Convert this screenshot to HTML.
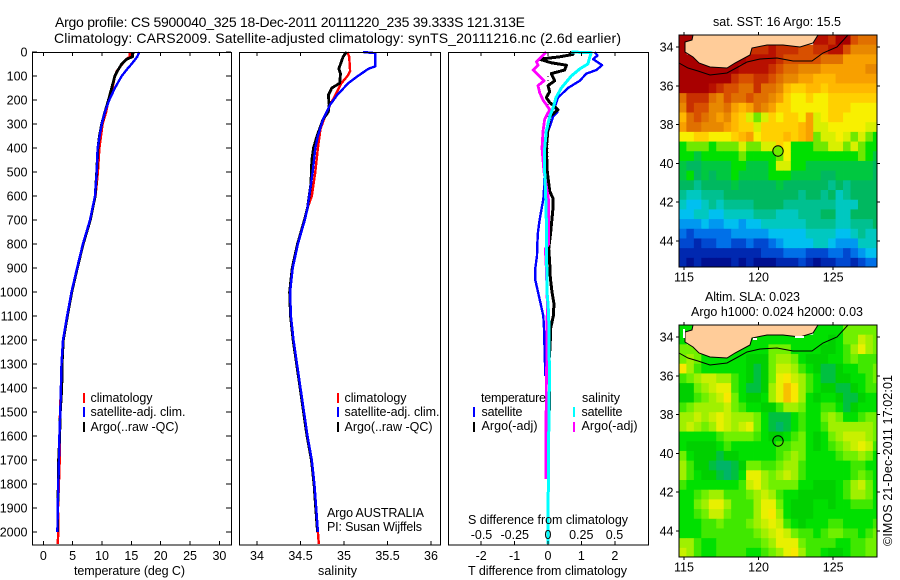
<!DOCTYPE html>
<html><head><meta charset="utf-8"><title>Argo profile</title>
<style>
html,body{margin:0;padding:0;background:#fff;width:900px;height:580px;overflow:hidden}
svg{display:block}
text{font-family:"Liberation Sans",sans-serif;font-size:12.5px;fill:#000}
.title{font-size:14px}
</style></head>
<body>
<svg id="fig" width="900" height="580" viewBox="0 0 900 580" xmlns="http://www.w3.org/2000/svg">
<defs>
<clipPath id="c1"><rect x="679" y="35" width="198" height="232"/></clipPath>
<clipPath id="c2"><rect x="679" y="325" width="198" height="232"/></clipPath>
</defs>
<text class="title" x="55" y="27" textLength="470">Argo profile: CS 5900040_325 18-Dec-2011 20111220_235 39.333S 121.313E</text>
<text class="title" x="54" y="43" textLength="567">Climatology: CARS2009. Satellite-adjusted climatology: synTS_20111216.nc (2.6d earlier)</text>

<g id="p1"></g>
<g id="p2"></g>
<g id="p3"></g>

<text x="74" y="575" textLength="111">temperature (deg C)</text>
<text x="318" y="575" textLength="39">salinity</text>
<text x="468" y="575" textLength="159">T difference from climatology</text>
<text x="468" y="524" textLength="160">S difference from climatology</text>
<text x="327" y="517" textLength="97">Argo AUSTRALIA</text>
<text x="327" y="531" textLength="95">PI: Susan Wijffels</text>

<g>
<rect x="83" y="393" width="2" height="10" fill="#f00"/>
<text x="90.500" y="402" textLength="62">climatology</text>
<rect x="83" y="407" width="2" height="10" fill="#00f"/>
<text x="90.500" y="416" textLength="95">satellite-adj. clim.</text>
<rect x="83" y="422" width="2" height="10" fill="#000"/>
<text x="90.500" y="431" textLength="88">Argo(..raw -QC)</text>
</g>
<g>
<rect x="337" y="393" width="2" height="10" fill="#f00"/>
<text x="344.500" y="402" textLength="62">climatology</text>
<rect x="337" y="407" width="2" height="10" fill="#00f"/>
<text x="344.500" y="416" textLength="95">satellite-adj. clim.</text>
<rect x="337" y="422" width="2" height="10" fill="#000"/>
<text x="344.500" y="431" textLength="88">Argo(..raw -QC)</text>
</g>
<g>
<text x="481" y="402" textLength="65">temperature</text>
<rect x="473" y="407" width="2" height="10" fill="#00f"/>
<text x="481.500" y="416" textLength="41">satellite</text>
<rect x="473" y="422" width="2" height="10" fill="#000"/>
<text x="481.500" y="430" textLength="56">Argo(-adj)</text>
<text x="582" y="402" textLength="38">salinity</text>
<rect x="573" y="407" width="2" height="10" fill="#0ff"/>
<text x="581.500" y="416" textLength="41">satellite</text>
<rect x="573" y="422" width="2" height="10" fill="#f0f"/>
<text x="581.500" y="430" textLength="56">Argo(-adj)</text>
</g>

<g>
<g id="sstCells" clip-path="url(#c1)"></g>
<g>
<path d="M693 35L692 40L685 42L685 52L693 57L699 63L710 67L727 68L735 63L750 55L752 48L767 45L783 45L800 47L813 43L818 35Z" fill="#ffcc99" stroke="#000" stroke-width="1"/>
<path d="M679 63L688 68L698 71L710 75L727 73L738 67L747 62L760 59L777 58L793 61L812 61L823 53L837 47L848 35" fill="none" stroke="#000" stroke-width="1"/>
</g>
<g id="sstAxes"></g>
<circle cx="778" cy="151" r="5.200" fill="#70e800" stroke="#000" stroke-width="1"/>
<text x="713" y="26" textLength="128">sat. SST: 16 Argo: 15.5</text>
</g>

<g>
<g id="slaCells" clip-path="url(#c2)"></g>
<g>
<path d="M693 325L692 330L685 332L685 342L693 347L699 353L710 357L727 358L735 353L750 345L752 338L767 335L783 335L800 337L813 333L818 325Z" fill="#ffcc99" stroke="#000" stroke-width="1"/>
<path d="M679 353L688 358L698 361L710 365L727 363L738 357L747 352L760 349L777 348L793 351L812 351L823 343L837 337L848 325" fill="none" stroke="#000" stroke-width="1"/>
<rect x="683" y="329" width="2" height="9" fill="#fff"/>
<rect x="753" y="338" width="4" height="2" fill="#fff"/>
<rect x="795" y="336" width="9" height="2" fill="#fff"/>
</g>
<g id="slaAxes"></g>
<circle cx="778" cy="441" r="5.200" fill="none" stroke="#000" stroke-width="1"/>
<text x="705" y="301" textLength="95">Altim. SLA: 0.023</text>
<text x="691" y="316" textLength="172">Argo h1000: 0.024 h2000: 0.03</text>
</g>
<text x="0" y="0" transform="translate(892 546) rotate(-90)" textLength="171">©IMOS 21-Dec-2011 17:02:01</text>
</svg>

<script>
// ---------- profile data ----------
const depthTicks = [0,100,200,300,400,500,600,700,800,900,1000,1100,1200,1300,1400,1500,1600,1700,1800,1900,2000];
const tempTicks = [0,5,10,15,20,25,30];
const salTicks = [34,34.5,35,35.5,36];
const tDiffTicks = [-2,-1,0,1,2];
const tDiffLabels = ['-2','-1','0','1','2'];
const sDiffTicks = [-0.5,-0.25,0,0.25,0.5];
const sDiffLabels = ['-0.5','-0.25','0','0.25','0.5'];

const climTDepths = [0,20,30,80,100,150,200,250,300,400,500,600,700,800,900,1000,1100,1200,1300,1400,1500,1600,1700,1800,1900,2000,2050];
const climTemp = [14.75,14.75,14.1,12.5,12.2,11.8,11.1,10.7,10.1,9.55,9.3,8.9,7.95,6.75,5.75,4.8,4.05,3.35,3.1,3.0,2.85,2.8,2.8,2.65,2.5,2.55,2.45];
const satTDepths = [0,20,50,65,100,150,200,250,300,400,500,600,700,800,900,1000,1100,1200,1300,1400,1500,1600,1700,1800,1900,2000];
const satTemp = [16.35,16,15.05,14.5,13.35,12.2,11.25,10.5,9.95,9.25,9.1,8.8,7.95,6.75,5.75,4.8,4.05,3.35,3.1,3.0,2.9,2.75,2.68,2.55,2.45,2.4];
const argoTDepths = [0,20,30,50,80,100,150,200,250,300,350,400,500,600,700,800,900,1000,1100,1200,1300,1400,1500,1600,1700,1800,1900,2000];
const argoTemp = [15.3,15.2,14.2,13.35,12.6,12.2,11.65,11.1,10.5,9.95,9.55,9.3,9.1,8.85,8.0,6.8,5.8,4.85,4.1,3.4,3.2,3.15,2.9,2.8,2.6,2.55,2.45,2.45];

const climSDepths = [0,20,80,100,130,180,220,270,320,400,500,600,650,700,800,900,1000,1100,1200,1300,1400,1500,1600,1700,1800,1900,2000,2050];
const climSal = [35.04,35.06,35.07,35.04,34.97,34.9,34.84,34.78,34.73,34.7,34.67,34.63,34.58,34.55,34.47,34.41,34.38,34.39,34.42,34.46,34.5,34.54,34.58,34.63,34.66,34.68,34.7,34.71];
const satSDepths = [0,5,60,70,100,130,180,220,280,350,400,500,600,650,700,800,900,1000,1100,1200,1300,1400,1500,1600,1700,1800,1900,2000];
const satSal = [35.22,35.36,35.36,35.28,35.16,35.05,34.92,34.84,34.76,34.7,34.67,34.64,34.6,34.58,34.55,34.47,34.41,34.38,34.39,34.42,34.46,34.5,34.54,34.58,34.63,34.66,34.68,34.7];
const argoSDepths = [0,20,40,70,90,130,150,180,220,250,280,320,350,400,450,550,650,700,800,900,1000,1100,1200,1300,1400,1500,1600,1700,1800,1900,2000];
const argoSal = [35.03,34.99,34.97,34.94,34.96,34.95,34.86,34.82,34.83,34.82,34.76,34.72,34.69,34.65,34.63,34.62,34.58,34.545,34.465,34.405,34.375,34.385,34.415,34.455,34.495,34.535,34.575,34.625,34.655,34.675,34.695];

const satTdDepths = [0,15,30,55,75,90,120,150,190,230,250,270,300,330,400,500,600,620,700,750,800,850,900,950,1000,1050,1100,1150,1200,1250,1300,1350];
const satTd = [1.4,1.48,1.35,1.62,1.45,1.15,0.95,0.6,0.3,0.2,0.28,0.15,0.08,0,-0.1,-0.1,-0.13,-0.15,-0.25,-0.3,-0.32,-0.33,-0.38,-0.38,-0.3,-0.22,-0.14,-0.12,-0.11,-0.1,-0.09,-0.08];
const argoTdDepths = [0,10,20,30,45,55,75,90,120,140,165,190,210,240,270,320,400,500,580,610,650,750,820,880,940,1000,1050,1100,1150,1200,1250,1300,1400,1550,1720];
const argoTd = [0.65,0.75,0.35,-0.25,0.1,0.55,0.5,0.1,0.2,0,0.05,-0.05,0.05,0.3,0.05,0,-0.05,-0.02,0.05,0.15,0.15,0.08,0.02,0.05,0.07,0.12,0.18,0.16,0.08,0.07,0.05,0.02,0.05,0.03,-0.05];
const satSdDepths = [0,3,30,50,70,100,150,190,230,270,330,400,500,600,700,1000,1050,1100,1200,1300,1400,1600,1800,2050];
const satSd = [0.175,0.325,0.31,0.3,0.24,0.175,0.1,0.06,0.04,0.0125,-0.0125,-0.025,-0.025,-0.0175,-0.0125,-0.0075,0,0.005,0.0075,0.01,0.01,0.005,0.002,0];
const argoSdDepths = [0,20,40,55,75,95,120,140,170,200,240,280,330,400,500,600,620,800,820,900,1000,1050,1150,1300,1400,1600,1780];
const argoSd = [-0.0125,-0.05,-0.0875,-0.075,-0.1125,-0.075,-0.03,-0.075,-0.0625,-0.0375,0.0125,-0.025,-0.0375,-0.045,-0.03,0,0.005,0.005,-0.02,-0.0125,-0.0075,-0.005,-0.0075,-0.01,-0.0125,-0.015,-0.015];
const zeroLineDepths = [100,200,300,400,500,600];

// ---------- map data (0.5 degree blocks) ----------
const lonTicks = [115,120,125];
const latTicks = [34,36,38,40,42,44];
const sstRows = [
[21,21,null,null,null,null,null,null,null,null,null,null,null,null,null,null,null,null,20.5,20.5,20,21,21,19.5,19,19,19],
[21,null,null,null,null,null,null,null,null,20,20,20,20.5,20,20,20,19.5,19.5,20,20,20.5,20.5,19.5,18.5,18.5,18.5,18.5],
[21,21,21,null,null,null,null,21,21,20.5,20.5,20.5,20.5,20,19.5,19.5,19.5,19.5,19.5,19,19,19,18,18,18,18,18],
[21,21,21,21,21,21,21,21,20.5,20.5,20.5,20.5,20,19.5,19,19,18.5,18.5,18.5,18,18,18,18,18,18,18.5,18.5],
[21,21,21,21,21,21,21,20,19.5,19.5,20,20,19.5,19,18.5,18.5,18,18,17.5,17.5,17.5,18,18,18,18,18,18],
[21,21,21,21,20.5,20,19.5,19.5,19,19,20,19,19,18.5,17.5,17,17,17.5,17.5,17,17.5,17.5,17.5,17.5,17.5,17.5,17.5],
[19,20,20,20,19,18.5,19.5,19,19,19.5,19,19,18.5,18,17,16.5,16.5,17,16.5,16.5,17,17,17,17,17,17,17],
[18.5,20,19.5,19.5,18.5,18.5,19,18,17.5,18,19,18.5,18,17,17,16.5,16.5,16.5,16.5,16.5,17,17,17,16.5,16.5,16.5,16.5],
[17.5,19,19.5,19,18.5,18,18.5,17.5,17,16,15.5,16,17,16.5,17,17,16.5,18,16,16.5,17,17,16.5,16.5,16.5,16.5,16.5],
[18,19,19,18.5,18.5,18.5,18,17.5,17,17,16,17,17,17,17,17,17.5,18,16,16,16.5,16.5,16.5,16.5,16.5,16,16],
[16.5,16.5,17,17,16.5,16.5,16.5,17,17.5,18,16.5,17,17,17,17.5,17,17.5,18,15.5,16,16,16.5,16,15.5,16,15.5,15],
[15,15.5,15.5,15.5,15,15.5,15.5,15.5,16,15.5,15.5,16,16,17,16.5,15,15,15,15.5,15.5,16,16,15.5,16,15.5,15,15],
[15,15,14.5,15,15,15,15,15,15.5,15,15,15,15,15.5,16.5,15,15,15,15,15,15,15,15,15,15.5,15,14.5],
[14.5,14,14,14.5,14.5,14.5,14.5,15,15,14.5,14.5,14.5,15,16,16,15,15,14.5,14.5,14.5,14.5,14.5,14.5,14.5,14.5,14.5,14],
[14.5,15,14,14.5,14,14.5,14.5,15,14.5,14.5,14.5,14.5,15,15,15,14.5,14.5,14.5,14.5,14,14,14.5,14.5,14.5,14.5,14.5,14],
[14,14,13.5,14,14,14,14,14.5,14,14,14,14,14,14.5,14,14,14,14,14,14,13.5,14,13.5,14,14,14,14],
[13.5,13,13,13.5,13.5,13.5,14,14,14,14,14,14,14,14,14,14,13.5,14,14,13.5,14,13,13.5,14,14,14,14],
[13,12.5,12.5,13,13.5,13,13.5,13.5,13.5,13.5,14,14,14,14,13.5,13.5,13.5,13.5,13.5,13.5,13.5,13,13,13,14,14,14],
[12.5,12.5,13,13,12.5,12.5,13,13,13,13,13.5,13.5,13.5,13,13,13,13.5,13.5,13.5,14,14,13,13,14,14,14,14],
[12,12,12,12.5,12,12,12.5,12.5,12,12.5,12.5,13,13,13,13,13,13,13.5,13.5,13.5,13.5,13,13,13.5,13.5,13.5,14],
[11.5,11,11.5,11.5,11.5,11.5,11.5,12,12,12,12,12,12.5,12.5,12.5,12.5,12.5,13,13,13,13,12.5,12.5,13,13.5,13,13],
[11,11,10.5,11,11,11.5,11.5,11,11,11.5,11,11,11.5,12,12.5,12.5,12.5,12.5,13,13,12.5,12,12,12,13,13,13],
[10.5,10.5,10.5,10.5,10.5,10.5,10.5,10.5,10.5,10.5,10.5,11,11,11,11.5,11.5,11.5,11,11,11,11.5,11.5,11,11.5,12,12.5,12.5],
[10.5,10,10.5,10,10,10,10,10.5,10,10.5,10,10,10,10.5,10.5,10.5,11,10.5,10,10.5,10.5,11,11,10.5,11,11.5,11.5]
];
const slaRows = [
[0,0,null,null,null,null,null,null,null,null,null,null,null,null,null,null,null,null,0,0,0,0,5,5,5,5,5],
[0,null,null,null,null,null,null,null,null,0,0,0,0,0,0,0,0,0,0,0,-2,0,5,5,10,8,5],
[5,5,5,null,null,null,null,0,0,0,0,0,5,5,5,0,0,0,0,-2,-2,0,3,8,12,8,5],
[5,8,5,0,0,0,0,0,0,-2,-3,-2,5,8,8,5,0,-2,-3,-3,0,0,3,5,3,3,3],
[15,8,3,0,0,0,0,0,0,-3,-4,-3,5,10,10,8,3,0,-3,-5,-5,-2,0,0,3,3,5],
[3,5,8,10,10,8,8,3,0,-3,-4,-2,5,12,15,10,8,3,0,-5,-5,-3,-2,0,0,3,5],
[-2,-3,5,8,10,12,12,3,0,-4,-4,-2,8,12,18,15,8,3,0,-3,-3,-5,-5,-3,0,3,3],
[-2,-2,3,5,8,10,15,5,0,-3,-3,0,8,12,18,15,8,0,-2,0,0,-3,-5,-5,-2,0,0],
[3,5,8,8,8,8,10,5,2,0,0,-2,-2,3,8,8,5,0,0,3,3,0,-5,-3,0,0,0],
[8,8,10,8,10,12,10,8,8,8,5,0,-4,-6,-4,0,3,0,0,5,8,5,0,0,3,5,5],
[8,10,8,5,8,12,10,8,10,12,5,0,-4,-7,-5,0,3,0,0,3,8,8,8,8,8,8,5],
[0,0,0,0,0,3,5,5,5,5,3,0,-3,-3,0,3,5,0,-3,0,5,8,10,10,10,8,5],
[0,-2,-3,-3,-2,0,3,0,0,0,0,0,0,3,3,5,5,0,-3,0,3,5,8,10,12,10,3],
[5,0,-2,-2,-2,-4,-3,-2,0,0,0,0,0,3,5,8,5,0,0,0,0,3,5,5,8,5,0],
[8,3,-2,-3,-5,-7,-8,-5,-2,5,5,3,3,5,8,8,3,0,0,0,0,0,0,3,3,0,0],
[8,3,0,-2,-3,-5,-7,-4,0,12,12,8,5,8,10,8,3,0,0,0,0,0,0,3,5,3,0],
[3,0,0,0,0,0,0,0,3,10,12,8,5,5,5,5,0,0,-2,-3,-2,0,3,8,10,5,0],
[0,0,3,5,8,8,3,3,3,5,8,10,8,3,0,0,-2,-2,-2,-3,-3,0,3,8,8,5,0],
[0,0,5,8,12,12,8,3,3,3,8,12,12,5,0,-2,-3,-2,0,0,-2,0,0,3,3,3,0],
[0,0,3,5,10,10,5,3,3,3,8,13,15,8,0,-2,-3,-2,0,0,0,0,0,0,0,0,0],
[0,0,0,3,3,5,3,3,3,5,8,10,12,10,3,0,-2,0,0,0,3,3,0,0,0,0,3],
[0,0,0,3,3,3,3,3,3,3,5,8,10,12,10,5,3,3,0,3,5,5,3,3,0,3,5],
[8,8,3,0,0,3,3,3,3,3,3,5,8,12,13,13,5,3,3,3,3,0,0,3,3,5,5],
[10,8,3,0,0,3,3,3,3,0,0,3,5,8,12,15,8,3,3,0,-2,-2,0,3,3,5,5]
];
const sstLevels = [10,10.5,11,11.5,12,12.5,13,13.5,14,14.5,15,15.5,16,16.5,17,17.5,18,18.5,19,19.5,20,20.5,21];
const sstColors = ['#001090','#0028b0','#0048d0','#0070e8','#0098f0','#00c0f0','#00c8c0','#00c090','#00b860','#00c840','#00e000','#70e800','#d8f000','#f8f000','#ffd000','#ffb800','#f8a000','#e88800','#e07000','#d85000','#c83000','#b81000','#a80000'];
const slaLevels = [-8,-5,-3,0,3,5,8,10,12,15,18];
const slaColors = ['#00b468','#00c040','#00d000','#00e000','#40e800','#70f000','#a0f000','#c8f000','#e8f000','#f8e800','#f8c000'];

// ---------- axis functions ----------
const svg = document.getElementById('fig');
const NS = 'http://www.w3.org/2000/svg';
const yD = d => 52 + 0.24 * d;
const xT = t => 43.3 + 5.87 * t;
const xS = s => 257 + 87 * (s - 34);
const xTd = v => 548 + 33.4 * v;
const xSd = v => 548 + 133 * v;
const xLon = l => 684 + 14.92 * (l - 115);
const yLat = l => 47 + 19.38 * (l - 34);

function el(parent, tag, attrs, txt) {
  const e = document.createElementNS(NS, tag);
  for (const k in attrs) e.setAttribute(k, attrs[k]);
  if (txt !== undefined) e.textContent = txt;
  parent.appendChild(e);
  return e;
}
function seg(parent, x1, y1, x2, y2) {
  const l = el(parent, 'line', {x1, y1, x2, y2, stroke: '#000', 'stroke-width': 1, 'shape-rendering': 'crispEdges'});
  
  
  return l;
}
function frame(parent, x, w) {
  const r = el(parent, 'rect', {x: x + 0.5, y: 52.5, width: w, height: 492.5, fill: 'none', stroke: '#000', 'stroke-width': 1.2, 'shape-rendering': 'crispEdges'});
  
  
}
function label(parent, x, y, anchor, s) {
  const t = el(parent, 'text', {x, y, 'text-anchor': anchor}, s);
  
  
}
function series(parent, depths, vals, xf, color, w, name) {
  const pts = depths.map((d, i) => xf(vals[i]).toFixed(1) + ',' + yD(d).toFixed(1)).join(' ');
  const p = el(parent, 'polyline', {points: pts, fill: 'none', stroke: color, 'stroke-width': w, 'stroke-linejoin': 'round', 'shape-rendering': 'crispEdges'});
  
  
}

// ---------- panel 1: temperature ----------
const p1 = document.getElementById('p1');
series(p1, climTDepths, climTemp, xT, '#f00', 2.4, 'series-climatology-temperature');
series(p1, argoTDepths, argoTemp, xT, '#000', 2.8, 'series-argo-temperature');
series(p1, satTDepths, satTemp, xT, '#00f', 2.4, 'series-satellite-temperature');
frame(p1, 32, 199);
depthTicks.forEach(d => {
  seg(p1, 32, yD(d), 37, yD(d));
  seg(p1, 226, yD(d), 231, yD(d));
  label(p1, 27.5, yD(d) + 4.5, 'end', d);
});
tempTicks.forEach(t => {
  seg(p1, xT(t), 52, xT(t), 56);
  seg(p1, xT(t), 541, xT(t), 545);
  label(p1, xT(t), 560, 'middle', t);
});

// ---------- panel 2: salinity ----------
const p2 = document.getElementById('p2');
series(p2, climSDepths, climSal, xS, '#f00', 2.4, 'series-climatology-salinity');
series(p2, argoSDepths, argoSal, xS, '#000', 2.8, 'series-argo-salinity');
series(p2, satSDepths, satSal, xS, '#00f', 2.4, 'series-satellite-salinity');
frame(p2, 239, 201);
salTicks.forEach(s => {
  seg(p2, xS(s), 52, xS(s), 56);
  seg(p2, xS(s), 541, xS(s), 545);
  label(p2, xS(s), 560, 'middle', s);
});

// ---------- panel 3: differences ----------
const p3 = document.getElementById('p3');
zeroLineDepths.forEach(d => {
  const z = el(p3, 'line', {x1: xTd(0), y1: yD(d), x2: xTd(0), y2: yD(d + 100), stroke: '#000', 'stroke-width': 1, 'stroke-dasharray': '1 3', 'shape-rendering': 'crispEdges'});
  
  
});
series(p3, satTdDepths, satTd, xTd, '#00f', 2.4, 'series-satellite-t-difference');
series(p3, argoTdDepths, argoTd, xTd, '#000', 3, 'series-argo-t-difference');
series(p3, argoSdDepths, argoSd, xSd, '#f0f', 2.8, 'series-argo-s-difference');
series(p3, satSdDepths, satSd, xSd, '#0ff', 3, 'series-satellite-s-difference');
frame(p3, 448, 200);
tDiffTicks.forEach((t, i) => {
  seg(p3, xTd(t), 52, xTd(t), 56);
  seg(p3, xTd(t), 541, xTd(t), 545);
  label(p3, xTd(t), 560, 'middle', tDiffLabels[i]);
});
sDiffTicks.forEach((s, i) => {
  label(p3, xSd(s), 539, 'middle', sDiffLabels[i]);
});

// ---------- maps ----------
function nearest(levels, v) {
  let b = 0;
  levels.forEach((l, i) => { if (Math.abs(l - v) < Math.abs(levels[b] - v)) b = i; });
  return b;
}
function drawCells(host, rows, levels, colors, dy, name) {
  const w = 14.92 * 0.5, h = 19.38 * 0.5;
  rows.forEach((row, j) => {
    row.forEach((v, i) => {
      if (v === null) return;
      const lon = 114.66 + 0.5 * i;
      const lat = 33.38 + 0.5 * j;
      const r = el(host, 'rect', {x: xLon(lon).toFixed(2), y: (yLat(lat) + dy).toFixed(2), width: (w + 0.4).toFixed(2), height: (h + 0.4).toFixed(2), fill: colors[nearest(levels, v)]});
      
      
    });
  });
}
function mapAxes(host, top) {
  const bottom = top + 232, dy = top - 35;
  const r = el(host, 'rect', {x: 679, y: top, width: 198, height: 232, fill: 'none', stroke: '#000', 'stroke-width': 1.2, 'shape-rendering': 'crispEdges'});
  
  
  lonTicks.forEach(l => {
    seg(host, xLon(l), top - 3, xLon(l), top);
    seg(host, xLon(l), bottom, xLon(l), bottom + 3);
    label(host, xLon(l), bottom + 14.5, 'middle', l);
  });
  latTicks.forEach(l => {
    seg(host, 676, yLat(l) + dy, 679, yLat(l) + dy);
    seg(host, 877, yLat(l) + dy, 880, yLat(l) + dy);
    label(host, 673.5, yLat(l) + dy + 4.5, 'end', l);
  });
}
drawCells(document.getElementById('sstCells'), sstRows, sstLevels, sstColors, 0, 'sst-cell');
drawCells(document.getElementById('slaCells'), slaRows, slaLevels, slaColors, 290, 'sla-cell');
mapAxes(document.getElementById('sstAxes'), 35);
mapAxes(document.getElementById('slaAxes'), 325);
</script>
</body></html>
